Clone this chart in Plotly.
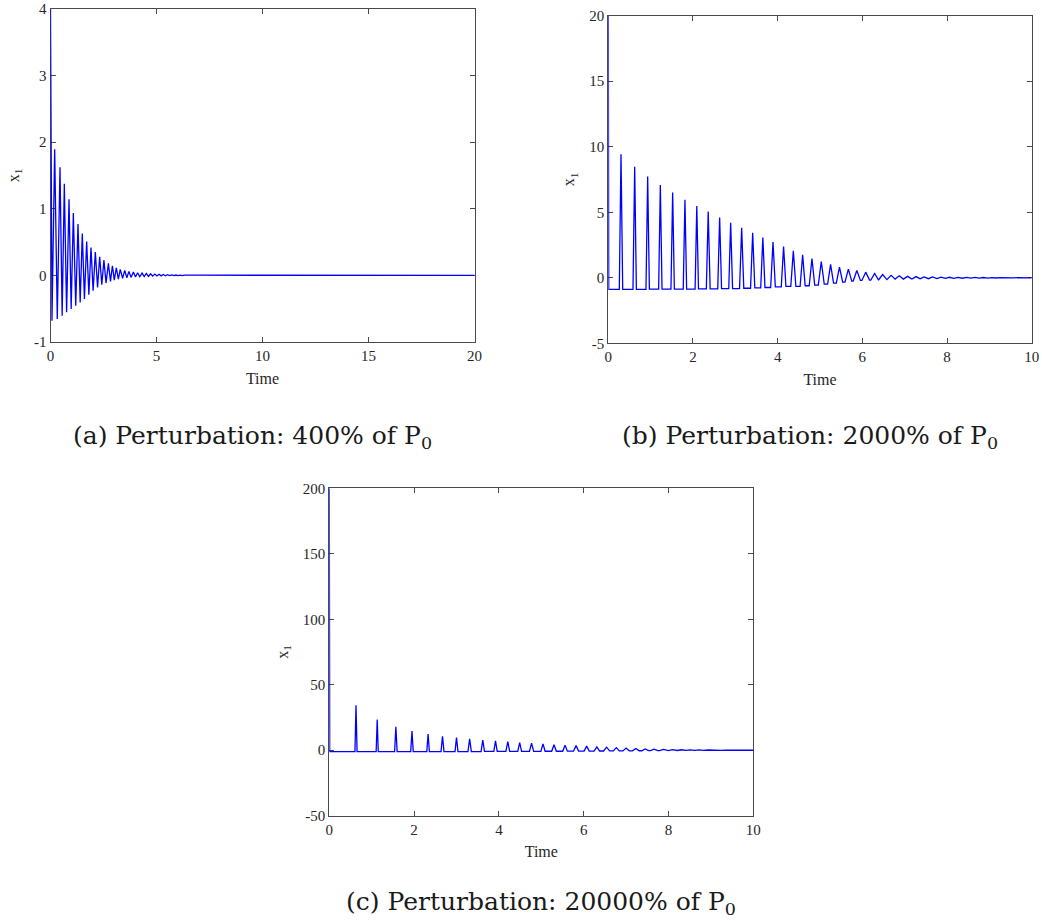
import plotly.graph_objects as go

# ---------------- Panel (a): 400% of P0 ----------------
a_start = [0.0, 4.0]
a_trough_t = [0.07, 0.32, 0.55, 0.76, 0.975, 1.19, 1.40, 1.60, 1.81, 2.01, 2.22, 2.42,
              2.62, 2.83, 3.01, 3.20, 3.40, 3.60, 3.80, 4.01, 4.21, 4.42, 4.62, 4.82,
              5.02, 5.22, 5.42, 5.62, 5.82, 6.02, 6.22, 6.42]
a_trough_v = [-0.68, -0.655, -0.605, -0.555, -0.505, -0.455, -0.405, -0.355, -0.29, -0.23,
              -0.18, -0.14, -0.115, -0.09, -0.07, -0.055, -0.045, -0.035, -0.03, -0.025,
              -0.02, -0.017, -0.014, -0.011, -0.009, -0.007, -0.005, -0.004, -0.003,
              -0.002, -0.002, -0.001]
a_peak_t = [0.197, 0.448, 0.652, 0.873, 1.077, 1.297, 1.50, 1.706, 1.91, 2.115, 2.32, 2.52,
            2.73, 2.92, 3.105, 3.29, 3.50, 3.70, 3.91, 4.11, 4.32, 4.52, 4.72, 4.92,
            5.12, 5.32, 5.52, 5.72, 5.92, 6.12, 6.32, 6.52]
a_peak_v = [1.895, 1.625, 1.375, 1.145, 0.935, 0.77, 0.63, 0.51, 0.42, 0.35, 0.28, 0.23,
            0.18, 0.145, 0.115, 0.09, 0.075, 0.06, 0.05, 0.04, 0.035, 0.03, 0.025, 0.02,
            0.016, 0.013, 0.01, 0.008, 0.006, 0.005, 0.004, 0.003]
a_end = [20.0, 0.0]
a_xticks = [0, 5, 10, 15, 20]
a_yticks = [-1, 0, 1, 2, 3, 4]

# ---------------- Panel (b): 2000% of P0 ----------------
b_start = [0.0, 20.0]
b_peak_t = [0.30, 0.623, 0.93, 1.229, 1.52, 1.81, 2.09, 2.36, 2.63, 2.89, 3.15, 3.41,
            3.65, 3.89, 4.14, 4.37, 4.59, 4.81, 5.03, 5.25, 5.46, 5.67, 5.87, 6.08,
            6.29, 6.48, 6.68, 6.87, 7.07, 7.27, 7.46, 7.66, 7.86, 8.06, 8.26, 8.46,
            8.66, 8.86, 9.06, 9.26, 9.46, 9.66, 9.86]
b_peak_v = [9.42, 8.48, 7.72, 7.08, 6.5, 5.96, 5.48, 5.05, 4.59, 4.19, 3.81, 3.43,
            3.07, 2.72, 2.39, 2.06, 1.75, 1.47, 1.24, 1.02, 0.82, 0.66, 0.55, 0.43,
            0.33, 0.25, 0.19, 0.15, 0.11, 0.09, 0.07, 0.06, 0.05, 0.04, 0.035, 0.03,
            0.025, 0.02, 0.015, 0.012, 0.01, 0.008, 0.006]
b_trough_v = [-0.88, -0.88, -0.88, -0.87, -0.87, -0.86, -0.86, -0.85, -0.84, -0.83, -0.82,
              -0.80, -0.77, -0.74, -0.70, -0.66, -0.66, -0.61, -0.56, -0.48, -0.41, -0.33,
              -0.25, -0.20, -0.18, -0.15, -0.14, -0.12, -0.10, -0.09, -0.08, -0.07, -0.06,
              -0.05, -0.04, -0.035, -0.03, -0.025, -0.02, -0.015, -0.012, -0.01, -0.008]
b_half_w = [0.04, 0.04, 0.04, 0.04, 0.04, 0.04, 0.04, 0.045, 0.045, 0.045, 0.05, 0.05,
            0.05, 0.055, 0.055, 0.06, 0.06, 0.065, 0.07, 0.07, 0.075, 0.08, 0.085, 0.09,
            0.09, 0.095, 0.1, 0.1, 0.1, 0.1, 0.1, 0.1, 0.1, 0.1, 0.1, 0.1,
            0.1, 0.1, 0.1, 0.1, 0.1, 0.1, 0.1]
b_end = [10.0, 0.0]
b_xticks = [0, 2, 4, 6, 8, 10]
b_yticks = [-5, 0, 5, 10, 15, 20]

# ---------------- Panel (c): 20000% of P0 ----------------
c_start = [0.0, 200.0]
c_peak_t = [0.63, 1.13, 1.57, 1.95, 2.33, 2.67, 3.0, 3.31, 3.62, 3.92, 4.21, 4.49,
            4.77, 5.04, 5.30, 5.56, 5.82, 6.07, 6.31, 6.54, 6.77, 7.0, 7.23, 7.45,
            7.66, 7.88, 8.09, 8.30, 8.51, 8.72, 8.93, 9.14, 9.35, 9.56, 9.77, 9.98]
c_peak_v = [34.3, 23.5, 17.9, 14.6, 12.4, 10.6, 9.6, 8.6, 7.8, 7.1, 6.6, 5.8,
            5.3, 4.8, 4.2, 3.8, 3.5, 3.1, 2.6, 2.3, 2.0, 1.6, 1.3, 1.0,
            0.8, 0.6, 0.45, 0.35, 0.25, 0.2, 0.15, 0.1, 0.08, 0.06, 0.05, 0.04]
c_trough_v = [-1.0, -1.0, -1.0, -1.0, -1.0, -1.0, -1.0, -1.0, -1.0, -0.95, -0.95, -0.9,
              -0.9, -0.85, -0.8, -0.8, -0.75, -0.7, -0.65, -0.6, -0.55, -0.5, -0.45, -0.4,
              -0.35, -0.3, -0.25, -0.2, -0.15, -0.12, -0.1, -0.08, -0.06, -0.05, -0.04, -0.03]
c_half_w = [0.025, 0.025, 0.03, 0.03, 0.03, 0.035, 0.035, 0.04, 0.04, 0.04, 0.045, 0.045,
            0.05, 0.05, 0.055, 0.055, 0.06, 0.06, 0.065, 0.07, 0.07, 0.075, 0.08, 0.08,
            0.085, 0.09, 0.09, 0.095, 0.1, 0.1, 0.1, 0.1, 0.1, 0.1, 0.1, 0.1]
c_end = [10.0, 0.0]
c_xticks = [0, 2, 4, 6, 8, 10]
c_yticks = [-50, 0, 50, 100, 150, 200]

captions = ["(a) Perturbation: 400% of P<sub>0</sub>",
            "(b) Perturbation: 2000% of P<sub>0</sub>",
            "(c) Perturbation: 20000% of P<sub>0</sub>"]


def zigzag(start, trough_t, trough_v, peak_t, peak_v, end):
    xs, ys = [start[0]], [start[1]]
    for tt, tv, pt, pv in zip(trough_t, trough_v, peak_t, peak_v):
        xs += [tt, pt]
        ys += [tv, pv]
    xs.append(end[0])
    ys.append(end[1])
    return xs, ys


def spikes(start, peak_t, peak_v, trough_v, half_w, end):
    xs, ys = [start[0], start[0] + 0.01], [start[1], trough_v[0]]
    n = len(peak_t)
    for i in range(n):
        right_v = trough_v[i + 1] if i + 1 < n else trough_v[i]
        xs += [peak_t[i] - half_w[i], peak_t[i], peak_t[i] + half_w[i]]
        ys += [trough_v[i], peak_v[i], right_v]
    xs.append(end[0])
    ys.append(end[1])
    return xs, ys


ax, ay = zigzag(a_start, a_trough_t, a_trough_v, a_peak_t, a_peak_v, a_end)
bx, by = spikes(b_start, b_peak_t, b_peak_v, b_trough_v, b_half_w, b_end)
cx, cy = spikes(c_start, c_peak_t, c_peak_v, c_trough_v, c_half_w, c_end)

line = dict(color="#0000FF", width=1.3)
fig = go.Figure()
fig.add_trace(go.Scatter(x=ax, y=ay, mode="lines", line=line, xaxis="x", yaxis="y",
                         showlegend=False))
fig.add_trace(go.Scatter(x=bx, y=by, mode="lines", line=line, xaxis="x2", yaxis="y2",
                         showlegend=False))
fig.add_trace(go.Scatter(x=cx, y=cy, mode="lines", line=line, xaxis="x3", yaxis="y3",
                         showlegend=False))

W, H = 1042, 921
serif = "Liberation Serif, Times New Roman, serif"
tickfont = dict(family=serif, size=15, color="#262626")
titlefont = dict(family=serif, size=16, color="#262626")
axcol = "#4a4a4a"


def xd(x0, x1):
    return [x0 / W, x1 / W]


def yd(top, bottom):
    return [1 - bottom / H, 1 - top / H]


def common(dom, rng, ticks, anchor):
    return dict(domain=dom, range=rng, tickmode="array", tickvals=ticks,
                ticktext=[str(v) for v in ticks], anchor=anchor, automargin=False,
                ticklabeloverflow="allow", layer="below traces",
                showline=True, linecolor=axcol, linewidth=1, mirror="ticks",
                ticks="inside", ticklen=5, tickcolor=axcol, showgrid=False,
                zeroline=False, tickfont=tickfont)


def xaxis(dom, rng, ticks, anchor):
    d = common(dom, rng, ticks, anchor)
    d["title"] = dict(text="Time", font=titlefont, standoff=9)
    return d


def yaxis(dom, rng, ticks, anchor):
    d = common(dom, rng, ticks, anchor)
    d["title"] = dict(text="x<sub>1</sub>", font=titlefont, standoff=10)
    return d


fig.update_layout(
    width=W, height=H, margin=dict(l=0, r=0, t=0, b=0, autoexpand=False),
    paper_bgcolor="white", plot_bgcolor="white",
    xaxis=xaxis(xd(50.5, 474.5), [0, 20], a_xticks, "y"),
    yaxis=yaxis(yd(9, 342), [-1, 4], a_yticks, "x"),
    xaxis2=xaxis(xd(608.3, 1031.7), [0, 10], b_xticks, "y2"),
    yaxis2=yaxis(yd(15.7, 343.3), [-5, 20], b_yticks, "x2"),
    xaxis3=xaxis(xd(329.3, 753.3), [0, 10], c_xticks, "y3"),
    yaxis3=yaxis(yd(488.3, 815.7), [-50, 200], c_yticks, "x3"),
)

capfont = dict(family="DejaVu Serif, serif", size=25, color="#1a1a1a")
cap_pos = [(252, 437), (810, 437), (541, 903)]
for text, (px, py) in zip(captions, cap_pos):
    fig.add_annotation(text=text, x=px / W, y=1 - py / H,
                       xref="paper", yref="paper", showarrow=False, font=capfont,
                       xanchor="center", yanchor="middle")

fig.write_html(
    "out.html",
    config={"displayModeBar": False},
    post_script="document.body.style.margin='0px';"
                "document.body.style.overflow='hidden';"
                "document.documentElement.style.overflow='hidden';",
)
